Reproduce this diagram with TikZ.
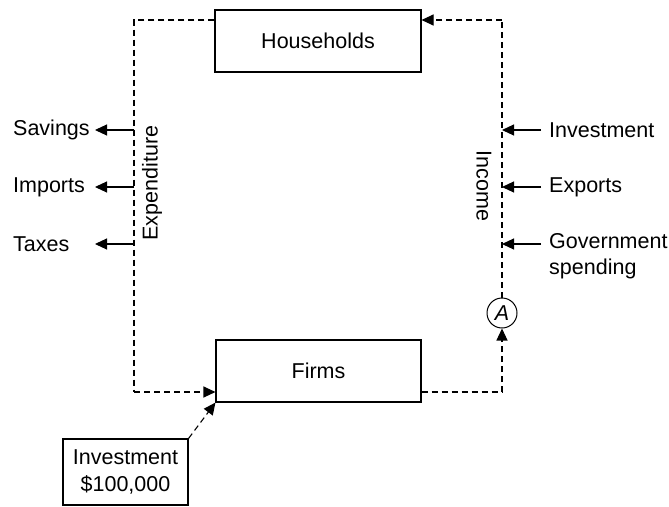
\documentclass[tikz,border=0pt]{standalone}
\usepackage{fontspec}
\setmainfont{Liberation Sans}
\usetikzlibrary{arrows.meta}
\tikzset{
  box/.style={draw, line width=1.1pt, inner sep=0pt, font=\fontsize{21.5}{27}\selectfont, align=center},
  lbl/.style={inner sep=0pt, font=\fontsize{21.5}{26}\selectfont, align=left},
  flow/.style={dashed, dash pattern=on 6pt off 4pt, line width=1.1pt},
  tip/.style={-{Triangle[length=12pt,width=11pt]}},
  solidarr/.style={line width=1.1pt, tip},
}
\begin{document}
\begin{tikzpicture}[x=1pt,y=-1pt]
\useasboundingbox (0,0) rectangle (669,506);
\node[box, minimum width=206pt, minimum height=62pt] (hh) at (318,41) {Households};
\node[box, minimum width=205pt, minimum height=62pt] (fm) at (318.5,371) {Firms};
\node[box, minimum width=125pt, minimum height=66pt] (inv) at (125.5,472) {Investment\\\$100,000};
\node[draw, circle, line width=1pt, minimum size=30pt, inner sep=0pt, font=\fontsize{21.5}{26}\selectfont\itshape] (A) at (502,313) {A};
\coordinate (tl) at (134,20);
\coordinate (bl) at (134,392);
\coordinate (br) at (502,392);
\coordinate (tr) at (502,20);
% main loop
\draw[flow] (hh.west|-tl) -- (tl) -- (bl);
\draw[flow, tip] (bl) -- (fm.west|-bl);
\draw[flow] (fm.east|-br) -- (br);
\draw[flow, tip] (br) -- (A.south);
\draw[flow] (A.north) -- (tr);
\draw[flow, tip] (tr) -- (hh.east|-tr);
\draw[flow, tip] (inv.north east) -- (fm.south west);
% axis labels
\node[lbl, rotate=90] (exp) at (152,183) {Expenditure};
\node[lbl, rotate=-90] (inc) at (484,186) {Income};
% leakages
\node[lbl, anchor=west] (sav) at (13,130) {Savings};
\node[lbl, anchor=west] (imp) at (13,187) {Imports};
\node[lbl, anchor=west] (tax) at (13,244) {Taxes};
\coordinate (l1) at (134,130); \coordinate (l1t) at (95,130);
\coordinate (l2) at (134,187); \coordinate (l2t) at (95,187);
\coordinate (l3) at (134,244); \coordinate (l3t) at (95,244);
\draw[solidarr] (l1) -- (l1t);
\draw[solidarr] (l2) -- (l2t);
\draw[solidarr] (l3) -- (l3t);
% injections
\node[lbl, anchor=west] (ivt) at (549,130) {Investment};
\node[lbl, anchor=west] (exo) at (549,187) {Exports};
\node[lbl, anchor=north west] (gov) at (549,233) {Government\\spending};
\coordinate (r1) at (541,130); \coordinate (r1t) at (502,130);
\coordinate (r2) at (541,187); \coordinate (r2t) at (502,187);
\coordinate (r3) at (541,244); \coordinate (r3t) at (502,244);
\draw[solidarr] (r1) -- (r1t);
\draw[solidarr] (r2) -- (r2t);
\draw[solidarr] (r3) -- (r3t);
\end{tikzpicture}
\end{document}
